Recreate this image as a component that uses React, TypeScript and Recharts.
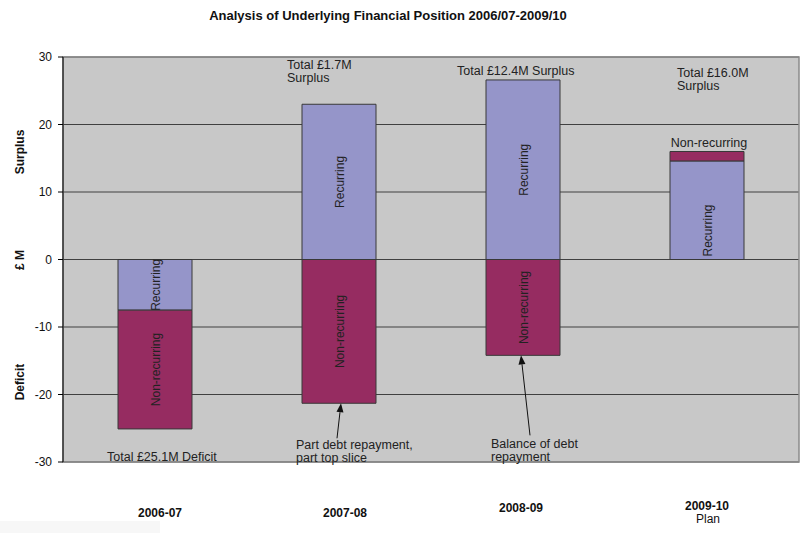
import React from "react"
import {
    BarChart,
    Bar,
    XAxis,
    YAxis,
    CartesianGrid,
    LabelList,
    ReferenceArea,
    ReferenceDot,
} from "recharts"

const years = ["2006-07", "2007-08", "2008-09", "2009-10"]
const yearSubLabels = ["", "", "", "Plan"]
const recurring = [-7.5, 23.0, 26.6, 14.6]
const nonRecurring = [-17.6, -21.3, -14.2, 1.4]
const yTicks = [-30, -20, -10, 0, 10, 20, 30]
const wrappedTotals = ["2007-08", "2009-10"]
const debtNotes = [
    { year: "2007-08", lines: ["Part debt repayment,", "part top slice"] },
    { year: "2008-09", lines: ["Balance of debt", "repayment"] },
]

const FONT = "'Liberation Sans', Arial, sans-serif"
const NOTE_SIZE = 12.5
const RECURRING_FILL = "#9595C9"
const NON_RECURRING_FILL = "#962C61"
const BAR_STROKE = "#383838"

const data = years.map((year, i) => ({
    year,
    recurring: recurring[i],
    nonRecurring: nonRecurring[i],
}))

const totals = years.map((_, i) => recurring[i] + nonRecurring[i])
const negativeEnds = years.map(
    (_, i) => Math.min(0, recurring[i]) + Math.min(0, nonRecurring[i])
)

function totalText(t: number) {
    return `Total £${Math.abs(t).toFixed(1)}M ${t < 0 ? "Deficit" : "Surplus"}`
}

// pixel nudges for the free-floating notes, per category
const totalOffsets: Record<string, { dx: number; dy: number; lh: number }> = {
    "2006-07": { dx: -48, dy: -1, lh: 13 },
    "2007-08": { dx: -52, dy: 12, lh: 13 },
    "2008-09": { dx: -66, dy: 18, lh: 13 },
    "2009-10": { dx: -30, dy: 20, lh: 13 },
}
const arrowOffsets: Record<string, any> = {
    "2007-08": { tip: [2, 0], base: [-2, 35], tx: -43, ty: 46 },
    "2008-09": { tip: [-2, 0], base: [7, 80], tx: -32, ty: 93 },
}
const tickBaselines = [55, 55, 50, 48]
const tickShift = [5, 6, -2, 0]

function TotalNote(props: any) {
    const { viewBox, lines, dx, dy, lh } = props
    const cx = viewBox.x + viewBox.width / 2
    const cy = viewBox.y + viewBox.height / 2
    return (
        <text fontFamily={FONT} fontSize={NOTE_SIZE} fill="#222">
            {lines.map((l: string, k: number) => (
                <tspan key={k} x={cx + dx} y={cy + dy + k * lh}>
                    {l}
                </tspan>
            ))}
        </text>
    )
}

function ArrowNote(props: any) {
    const { viewBox, lines, cfg } = props
    const cx = viewBox.x + viewBox.width / 2
    const cy = viewBox.y + viewBox.height / 2
    const tx = cx + cfg.tip[0]
    const ty = cy + cfg.tip[1]
    const bx = cx + cfg.base[0]
    const by = cy + cfg.base[1]
    const ang = Math.atan2(ty - by, tx - bx)
    const len = 9
    const half = 3.5
    const hx = tx - len * Math.cos(ang)
    const hy = ty - len * Math.sin(ang)
    const px = -Math.sin(ang) * half
    const py = Math.cos(ang) * half
    return (
        <g>
            <line x1={bx} y1={by} x2={hx} y2={hy} stroke="#111" strokeWidth={1} />
            <polygon
                points={`${tx},${ty} ${hx + px},${hy + py} ${hx - px},${hy - py}`}
                fill="#111"
            />
            <text fontFamily={FONT} fontSize={NOTE_SIZE} fill="#222">
                {lines.map((l: string, k: number) => (
                    <tspan key={k} x={cx + cfg.tx} y={cy + cfg.ty + k * 13}>
                        {l}
                    </tspan>
                ))}
            </text>
        </g>
    )
}

function VerticalText({ cx, cy, text }: any) {
    return (
        <text
            x={cx}
            y={cy}
            transform={`rotate(-90 ${cx} ${cy})`}
            textAnchor="middle"
            dominantBaseline="central"
            fontFamily={FONT}
            fontSize={12}
            fill="#222"
        >
            {text}
        </text>
    )
}

function RecurringLabel(props: any) {
    const { x, y, width, height, index } = props
    const cx = x + width / 2
    const top = Math.min(y, y + height)
    const bottom = Math.max(y, y + height)
    // the plan year has its label sitting on the base of the bar
    const cy = years[index] === "2009-10" ? bottom - 29 : (top + bottom) / 2
    return <VerticalText cx={cx + 1} cy={cy} text="Recurring" />
}

function NonRecurringLabel(props: any) {
    const { x, y, width, height } = props
    const cx = x + width / 2
    const top = Math.min(y, y + height)
    const bottom = Math.max(y, y + height)
    if (bottom - top < 20) {
        return (
            <text
                x={cx + 2}
                y={top - 5}
                textAnchor="middle"
                fontFamily={FONT}
                fontSize={NOTE_SIZE}
                fill="#222"
            >
                Non-recurring
            </text>
        )
    }
    return <VerticalText cx={cx + 1} cy={(top + bottom) / 2} text="Non-recurring" />
}

function YearTick(props: any) {
    const { x, payload, index } = props
    const i = years.indexOf(payload.value)
    const k = i >= 0 ? i : index
    const base = 462 + tickBaselines[k]
    const tx = x + tickShift[k]
    return (
        <g>
            <text
                x={tx}
                y={base}
                textAnchor="middle"
                fontFamily={FONT}
                fontSize={12}
                fontWeight="bold"
                fill="#111"
            >
                {payload.value}
            </text>
            {yearSubLabels[k] ? (
                <text
                    x={tx + 1}
                    y={base + 13}
                    textAnchor="middle"
                    fontFamily={FONT}
                    fontSize={12}
                    fill="#111"
                >
                    {yearSubLabels[k]}
                </text>
            ) : null}
        </g>
    )
}

export default function App() {
    return (
        <div
            style={{
                position: "absolute",
                left: 0,
                top: 0,
                width: 803,
                height: 533,
                background: "#fff",
            }}
        >
            <div
                style={{
                    position: "absolute",
                    left: 0,
                    top: 521,
                    width: 160,
                    height: 12,
                    background: "#f7f7f7",
                }}
            />
            <BarChart
                width={803}
                height={533}
                data={data}
                stackOffset="sign"
                margin={{ top: 57, right: 4, bottom: 0, left: 0 }}
                style={{ position: "absolute", left: 0, top: 0 }}
            >
                <CartesianGrid
                    vertical={false}
                    stroke="#404040"
                    fill="#C8C8C8"
                    fillOpacity={1}
                />
                <ReferenceArea
                    y1={-30}
                    y2={30}
                    fill="none"
                    stroke="#8a8a8a"
                    strokeWidth={1.5}
                    ifOverflow="visible"
                />
                <XAxis
                    dataKey="year"
                    height={71}
                    axisLine={false}
                    tickLine={false}
                    tickSize={0}
                    tick={<YearTick />}
                    interval={0}
                />
                <YAxis
                    width={63}
                    domain={[-30, 30]}
                    ticks={yTicks}
                    tickSize={5}
                    tickMargin={6}
                    axisLine={{ stroke: "#000" }}
                    tickLine={{ stroke: "#000" }}
                    tick={{ fill: "#111", fontSize: 12, fontFamily: FONT }}
                />
                <Bar
                    dataKey="recurring"
                    stackId="a"
                    fill={RECURRING_FILL}
                    stroke={BAR_STROKE}
                    barSize={74}
                    isAnimationActive={false}
                >
                    <LabelList dataKey="recurring" content={<RecurringLabel />} />
                </Bar>
                <Bar
                    dataKey="nonRecurring"
                    stackId="a"
                    fill={NON_RECURRING_FILL}
                    stroke={BAR_STROKE}
                    barSize={74}
                    isAnimationActive={false}
                >
                    <LabelList dataKey="nonRecurring" content={<NonRecurringLabel />} />
                </Bar>
                {years.map((year, i) => {
                    const t = totals[i]
                    const txt = totalText(t)
                    const lines = wrappedTotals.includes(year)
                        ? [txt.split(" ").slice(0, 2).join(" "), txt.split(" ")[2]]
                        : [txt]
                    const o = totalOffsets[year]
                    return (
                        <ReferenceDot
                            key={"t" + year}
                            x={year}
                            y={t < 0 ? -30 : 30}
                            r={1}
                            fill="none"
                            stroke="none"
                            ifOverflow="visible"
                            label={<TotalNote lines={lines} dx={o.dx} dy={o.dy} lh={o.lh} />}
                        />
                    )
                })}
                {debtNotes.map((n) => (
                    <ReferenceDot
                        key={"d" + n.year}
                        x={n.year}
                        y={negativeEnds[years.indexOf(n.year)]}
                        r={1}
                        fill="none"
                        stroke="none"
                        ifOverflow="visible"
                        label={<ArrowNote lines={n.lines} cfg={arrowOffsets[n.year]} />}
                    />
                ))}
            </BarChart>
            <svg
                width={803}
                height={533}
                style={{ position: "absolute", left: 0, top: 0, pointerEvents: "none" }}
            >
                <text
                    x={388}
                    y={20}
                    textAnchor="middle"
                    fontFamily={FONT}
                    fontSize={13}
                    fontWeight="bold"
                    fill="#111"
                >
                    Analysis of Underlying Financial Position 2006/07-2009/10
                </text>
                {[
                    { t: "Surplus", y: 152 },
                    { t: "£ M", y: 260 },
                    { t: "Deficit", y: 382 },
                ].map((l) => (
                    <text
                        key={l.t}
                        x={20}
                        y={l.y}
                        transform={`rotate(-90 20 ${l.y})`}
                        textAnchor="middle"
                        dominantBaseline="central"
                        fontFamily={FONT}
                        fontSize={12}
                        fontWeight="bold"
                        fill="#111"
                    >
                        {l.t}
                    </text>
                ))}
            </svg>
        </div>
    )
}
